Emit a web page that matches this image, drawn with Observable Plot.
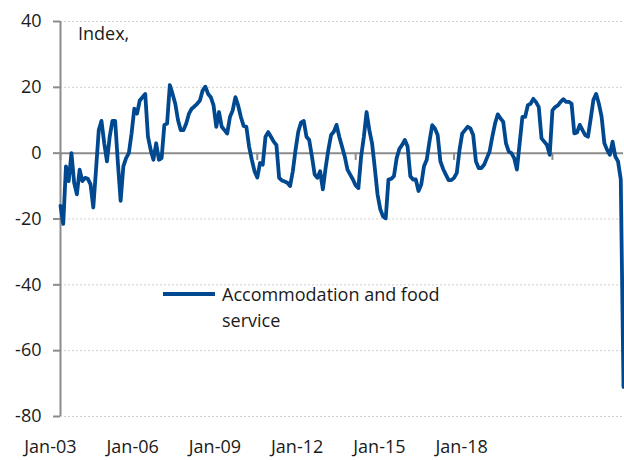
<!DOCTYPE html>
<html><head><meta charset="utf-8">
<script src="https://cdn.jsdelivr.net/npm/d3@7"></script>
<script src="https://cdn.jsdelivr.net/npm/@observablehq/plot@0.6"></script>
<style>
body{margin:0;background:#fff;}
#wrap{position:relative;width:624px;height:460px;font-family:"Open Sans",Lato,sans-serif;color:#1a1a1a;}
#unit{position:absolute;left:78px;top:20px;font-size:18px;line-height:26px;}
#legend{position:absolute;left:163px;top:281px;display:flex;align-items:flex-start;}
#legend .sw{width:52px;height:3.5px;margin-top:11px;margin-right:7px;}
#legend .lb{width:235px;font-size:18px;line-height:26px;}
</style></head><body><div id="wrap"></div><script>
// Monthly index values, Jan-03 onwards
const values = [
-16,-21.5,-4,-8.5,0,-9,-12.5,-5,-8.5,-7.5,-7.8,-9.5,
-16.5,-5,7,9.8,3,-2.5,5,9.8,9.8,-3,-14.5,-4,
-1.5,0,6,13.5,12,16,17,18,5,1,-2,3,
-2,-1.5,8.6,9,20.7,18,15,10,7,7,9,12,
13.5,14.2,15,16,19,20.2,18,17,14.5,8,12.5,8,
7,6,11,13,17,14.5,11,8.3,8,2,-2,-5.5,
-7.4,-3,-3.5,5,6.4,5,3.5,2.5,-7.5,-8.3,-8.6,-9,
-10,-5.5,1,6.5,9.3,9.8,5,4,-1,-6.5,-7.5,-5.5,
-11,-4.5,1,5.5,6.5,8.6,5,2,-1,-5,-6.5,-8,
-9.8,-10.6,-1,5,12.5,7,3,-4.5,-12.5,-17,-19.2,-19.8,
-8,-7.8,-7,-1.5,1.3,2.5,4,2,-7,-8,-8,-11.5,
-9.5,-4,-2,3.5,8.5,7.5,5.5,-2.5,-4.8,-6.5,-8.2,-8.2,
-7.5,-6,1,6,7,8,7.5,5.5,-2.5,-4.5,-4.5,-3.5,
-1.5,0.5,5,9,11.8,10.6,9.5,3,0.5,0,-1.5,-5,
3,11,11,14.6,15,16.5,15.5,14,4.5,3.5,2.5,-0.5,
13,14,14.5,15.6,16.4,15.6,15.6,15,6,6.3,8.6,7,
5.5,5,10.5,16.2,18,15,11,3,1,-0.5,3.5,-1,
-2.5,-8,-71
];
const tickMonths = [0,36,72,108,144,180];
const tickLabels = ["Jan-03","Jan-06","Jan-09","Jan-12","Jan-15","Jan-18"];
const yTicks = [-80,-60,-40,-20,0,20,40];
const seriesName = "Accommodation and food service";
const unitLabel = "Index,";

const lineColor = "#004990";
const axisColor = "#8c8c8c";
// labels in the source sit on a compressed spacing relative to the tick marks
const labelScale = 0.836, labelShift = -3.7;

const data = values.map((v, i) => ({i, v}));
const labels = tickMonths.map((m, k) => ({m, label: tickLabels[k]}));

const chart = Plot.plot({
  width: 624, height: 460,
  marginLeft: 60, marginRight: 1, marginTop: 21, marginBottom: 44,
  x: {domain: [0, values.length - 1], axis: null},
  y: {domain: [-80, 40], axis: null},
  style: {fontFamily: "'Open Sans', Lato, sans-serif", background: "#fff", overflow: "visible"},
  marks: [
    Plot.ruleY(yTicks.filter(t => t !== 0), {stroke: "#cfcfcf", strokeDasharray: "2,2", strokeWidth: 1}),
    Plot.axisY({ticks: yTicks, label: null, tickSize: 7, tickPadding: 12, fontSize: 18, stroke: axisColor, strokeWidth: 2, fill: "#1a1a1a", tickFormat: d => d}),
    Plot.ruleX([0], {y1: -80, y2: 40, stroke: axisColor, strokeWidth: 2}),
    Plot.ruleY([0], {stroke: axisColor, strokeWidth: 2}),
    Plot.ruleX(tickMonths, {y1: 0, y2: -2.2, stroke: axisColor, strokeWidth: 2}),
    Plot.line(data, {x: "i", y: "v", stroke: lineColor, strokeWidth: 3.8, strokeLinejoin: "round"}),
    Plot.text(labels, {x: d => d.m * labelScale + labelShift, y: () => -80, dy: 31, text: "label", fontSize: 18, fill: "#1a1a1a"})
  ]
});

const wrap = document.getElementById("wrap");
wrap.appendChild(chart);
const u = document.createElement("div");
u.id = "unit"; u.textContent = unitLabel; wrap.appendChild(u);
const lg = document.createElement("div");
lg.id = "legend";
lg.innerHTML = `<div class="sw" style="background:${lineColor}"></div><div class="lb"></div>`;
lg.querySelector(".lb").textContent = seriesName;
wrap.appendChild(lg);
</script></body></html>
